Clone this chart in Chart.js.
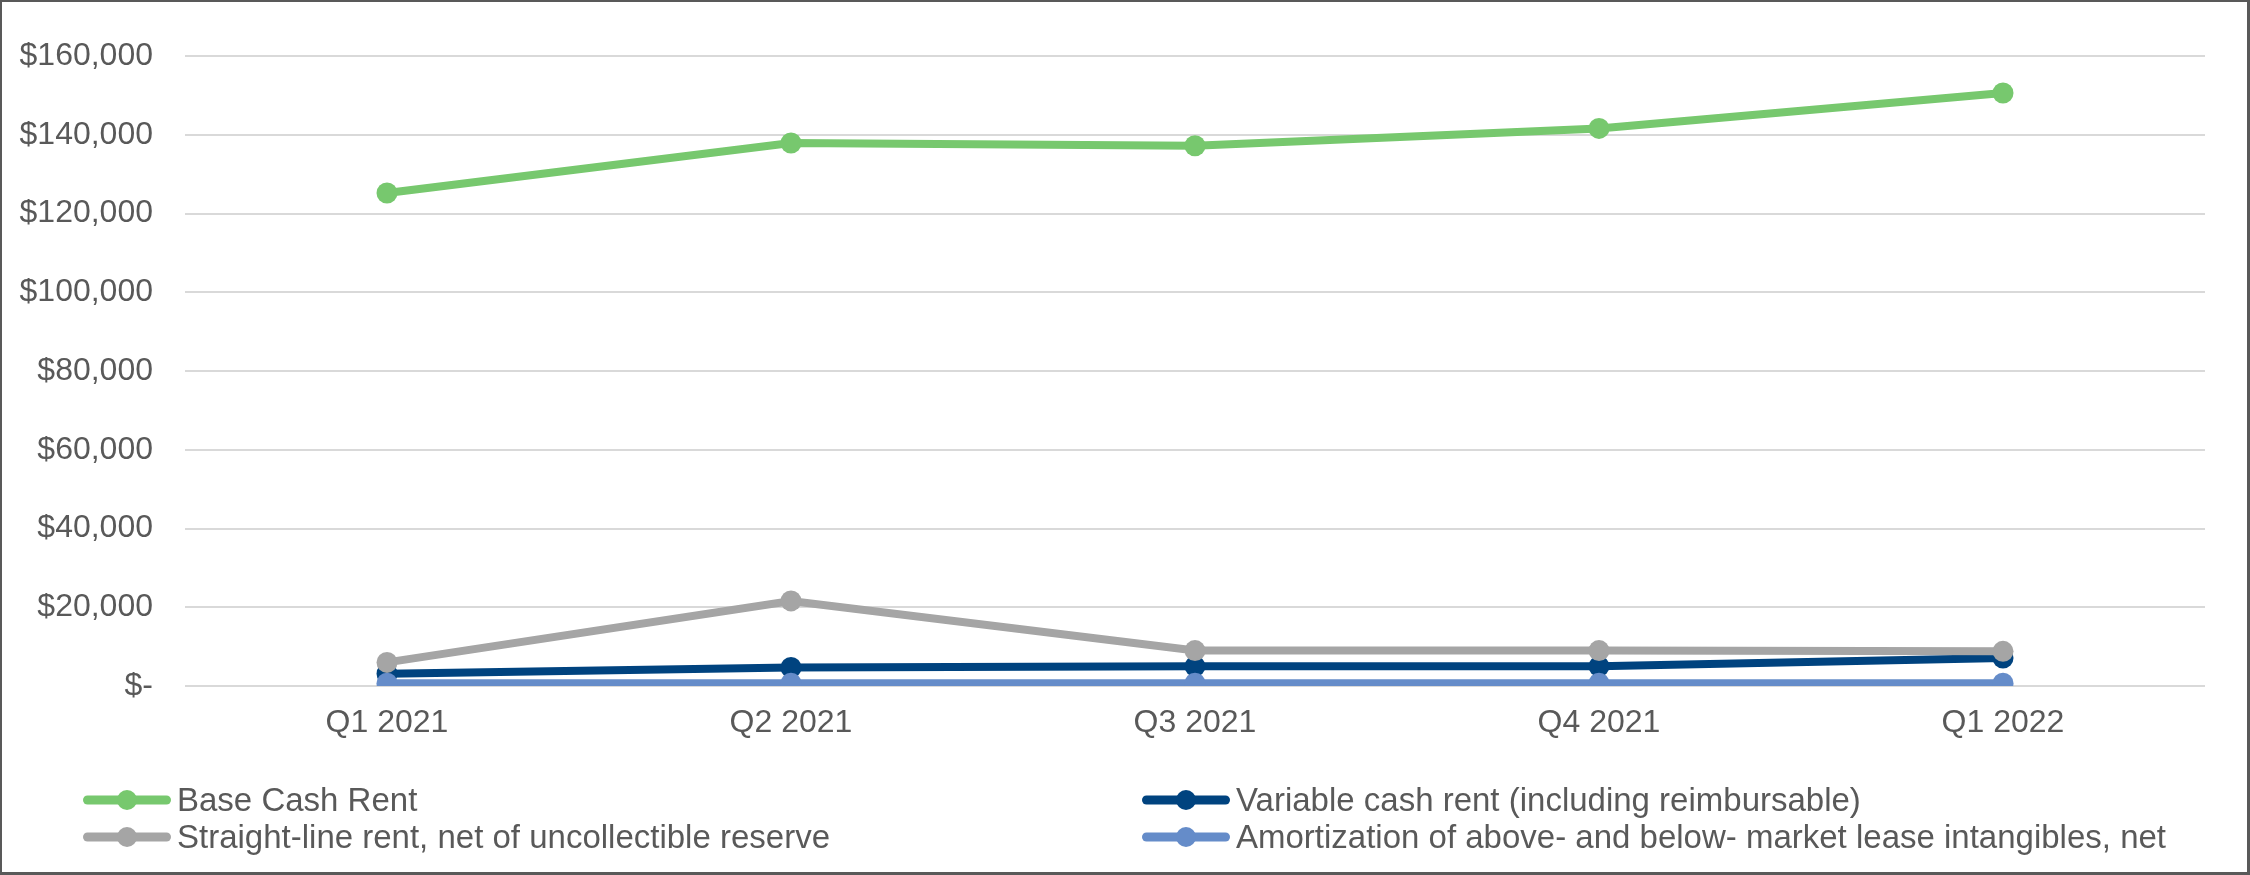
<!DOCTYPE html>
<html>
<head>
<meta charset="utf-8">
<script src="https://cdn.jsdelivr.net/npm/chart.js@4.4.1/dist/chart.umd.min.js"></script>
<style>
  html, body { margin: 0; padding: 0; background: #ffffff; }
  #wrap { position: relative; width: 2250px; height: 875px; overflow: hidden; }
  #wrap canvas { position: absolute; left: 0; top: 0; }
  #frame { position: absolute; left: 0; top: 0; width: 2250px; height: 875px; box-sizing: border-box;
           border-left: 2px solid #595959; border-top: 2px solid #595959;
           border-right: 3px solid #595959; border-bottom: 3px solid #595959; pointer-events: none; }
  .lg { position: absolute; display: flex; align-items: center; height: 38px;
        font-family: "Liberation Sans", Arial, sans-serif; font-size: 33px; color: #595959; white-space: nowrap; }
  .lg svg { margin-right: 6px; flex: none; }
</style>
</head>
<body>
<div id="wrap">
  <canvas id="c" width="2250" height="875"></canvas>
  <div id="legend"></div>
  <div id="frame"></div>
</div>
<script>
const categories = ['Q1 2021', 'Q2 2021', 'Q3 2021', 'Q4 2021', 'Q1 2022'];
const seriesNames = [
  'Base Cash Rent',
  'Variable cash rent (including reimbursable)',
  'Straight-line rent, net of uncollectible reserve',
  'Amortization of above- and below- market lease intangibles, net'
];
const baseCashRent = [125200, 137900, 137200, 141600, 150600];
const variableCashRent = [3100, 4700, 5000, 5000, 7100];
const straightLineRent = [6000, 21600, 9000, 9000, 8800];
const amortization = [700, 700, 700, 700, 700];
const yTickLabels = ['$-', '$20,000', '$40,000', '$60,000', '$80,000', '$100,000', '$120,000', '$140,000', '$160,000'];

const colors = ['#77C86E', '#00437F', '#A5A5A5', '#658CC9'];
const seriesValues = [baseCashRent, variableCashRent, straightLineRent, amortization];

const FONT = '"Liberation Sans", Arial, sans-serif';
const TEXT = '#595959';

const datasets = seriesNames.map((name, i) => ({
  label: name,
  data: seriesValues[i],
  borderColor: colors[i],
  backgroundColor: colors[i],
  pointBackgroundColor: colors[i],
  pointBorderColor: colors[i],
  pointBorderWidth: 0,
  pointRadius: 10.5,
  borderWidth: 8,
  tension: 0,
  fill: false,
  order: 4 - i
}));

new Chart(document.getElementById('c'), {
  type: 'line',
  data: { labels: categories, datasets },
  options: {
    responsive: false,
    animation: false,
    devicePixelRatio: 1,
    layout: { padding: { left: 0, right: 45, top: 56, bottom: 133 } },
    plugins: { legend: { display: false }, tooltip: { enabled: false } },
    scales: {
      x: {
        offset: true,
        afterFit: (s) => { s.height = 56; },
        grid: { display: false, drawTicks: false },
        border: { display: false },
        ticks: { color: TEXT, font: { family: FONT, size: 32 }, padding: 18, maxRotation: 0 }
      },
      y: {
        min: 0, max: 160000,
        afterFit: (s) => { s.width = 185; },
        grid: { color: '#D9D9D9', lineWidth: 2, drawTicks: false },
        border: { display: false },
        ticks: {
          stepSize: 20000,
          color: TEXT,
          font: { family: FONT, size: 32 },
          padding: 32,
          callback: (v, i) => yTickLabels[i]
        }
      }
    }
  }
});

// HTML legend built from the datasets
const legendPos = [
  { left: 83, top: 781 }, { left: 1142, top: 781 },
  { left: 83, top: 818 }, { left: 1142, top: 818 }
];
const lg = document.getElementById('legend');
seriesNames.forEach((name, i) => {
  const d = document.createElement('div');
  d.className = 'lg';
  d.style.left = legendPos[i].left + 'px';
  d.style.top = legendPos[i].top + 'px';
  d.innerHTML = '<svg width="88" height="24" viewBox="0 0 88 24">' +
    '<line x1="4.5" y1="12" x2="83.5" y2="12" stroke="' + colors[i] + '" stroke-width="9" stroke-linecap="round"/>' +
    '<circle cx="44" cy="12" r="10" fill="' + colors[i] + '"/></svg>';
  const t = document.createElement('span');
  t.textContent = name;
  d.appendChild(t);
  lg.appendChild(d);
});
</script>
</body>
</html>
